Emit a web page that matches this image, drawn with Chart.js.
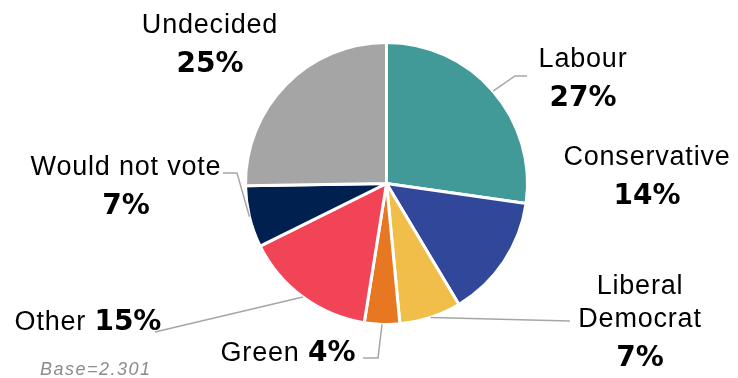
<!DOCTYPE html>
<html>
<head>
<meta charset="utf-8">
<script src="https://cdn.jsdelivr.net/npm/chart.js@4.4.1/dist/chart.umd.min.js"></script>
<style>
    html, body { margin: 0; padding: 0; background: #fff; }
</style>
</head>
<body>
<canvas id="vote" width="738" height="378"></canvas>
<script>
const parties = ['Labour', 'Conservative', 'Liberal Democrat', 'Green', 'Other', 'Would not vote', 'Undecided'];
const shares = [27, 14, 7, 4, 15, 7, 25];
const sliceColours = ['#419A98', '#31479A', '#F1BE4A', '#E87722', '#F24457', '#00214F', '#A5A5A5'];
const baseNote = 'Base=2.301';

// label placement, one per slice: centre x, first baseline, text lines, leader bends
// '{n}' = party name, '{v}' = share in bold
const labelLayout = [
    {x: 583, y: 67, lines: [['{n}'], ['{v}']], leader: [[515, 76], [527, 76]]},
    {x: 647, y: 165, lines: [['{n}'], ['{v}']], leader: null},
    {x: 640, y: 294, lines: [['Liberal'], ['Democrat'], ['{v}']], leader: [[570, 321]]},
    {x: 288, y: 361, lines: [['{n} ', '{v}']], leader: [[378, 358], [363, 358]]},
    {x: 88, y: 330, lines: [['{n} ', '{v}']], leader: [[155, 332]]},
    {x: 126, y: 175, lines: [['{n}'], ['{v}']], leader: [[237, 173], [223, 173]]},
    {x: 210, y: 33, lines: [['{n}'], ['{v}']], leader: null}
];

const nameFont = '27px "Liberation Sans", Arial, sans-serif';
const valueFont = 'bold 28px "DejaVu Sans", sans-serif';

const pieLabels = {
    id: 'pieLabels',
    afterDatasetsDraw(chart) {
        const ctx = chart.ctx;
        const arcs = chart.getDatasetMeta(0).data;
        ctx.save();

        arcs.forEach((arc, i) => {
            const lay = labelLayout[i];
            const {x, y, startAngle, endAngle, outerRadius} = arc.getProps(['x', 'y', 'startAngle', 'endAngle', 'outerRadius'], true);

            if (lay.leader) {
                const mid = (startAngle + endAngle) / 2;
                ctx.beginPath();
                ctx.moveTo(x + Math.cos(mid) * outerRadius, y + Math.sin(mid) * outerRadius);
                lay.leader.forEach(p => ctx.lineTo(p[0], p[1]));
                ctx.strokeStyle = '#A6A6A6';
                ctx.lineWidth = 1.5;
                ctx.stroke();
            }

            let baseline = lay.y;
            lay.lines.forEach((runs, li) => {
                if (li > 0)
                    baseline += runs[0] === '{v}' ? 39 : 33;

                const parts = runs.map(r => {
                    const isValue = r === '{v}';
                    const text = isValue ? shares[i] + '%' : r.replace('{n}', parties[i]);
                    ctx.font = isValue ? valueFont : nameFont;
                    ctx.letterSpacing = isValue ? '0px' : '0.8px';
                    return {text, isValue, w: ctx.measureText(text).width};
                });
                const total = parts.reduce((s, p) => s + p.w, 0);
                let cx = lay.x - total / 2;
                ctx.textAlign = 'left';
                ctx.textBaseline = 'alphabetic';
                ctx.fillStyle = '#000';
                parts.forEach(p => {
                    ctx.font = p.isValue ? valueFont : nameFont;
                    ctx.letterSpacing = p.isValue ? '0px' : '0.8px';
                    ctx.fillText(p.text, cx, baseline);
                    cx += p.w;
                });
            });
        });

        ctx.font = 'italic 18px "Liberation Sans", Arial, sans-serif';
        ctx.letterSpacing = '1.5px';
        ctx.fillStyle = '#8C8C8C';
        ctx.textAlign = 'left';
        ctx.fillText(baseNote, 40, 375);
        ctx.restore();
    }
};

new Chart(document.getElementById('vote'), {
    type: 'pie',
    data: {
        labels: parties,
        datasets: [{
            data: shares,
            backgroundColor: sliceColours,
            borderColor: '#fff',
            borderWidth: 3
        }]
    },
    options: {
        responsive: false,
        devicePixelRatio: 1,
        animation: false,
        radius: 141,
        layout: {padding: {top: 44, bottom: 55, left: 247, right: 212}},
        plugins: {
            legend: {display: false},
            tooltip: {enabled: false}
        }
    },
    plugins: [pieLabels]
});
</script>
</body>
</html>
